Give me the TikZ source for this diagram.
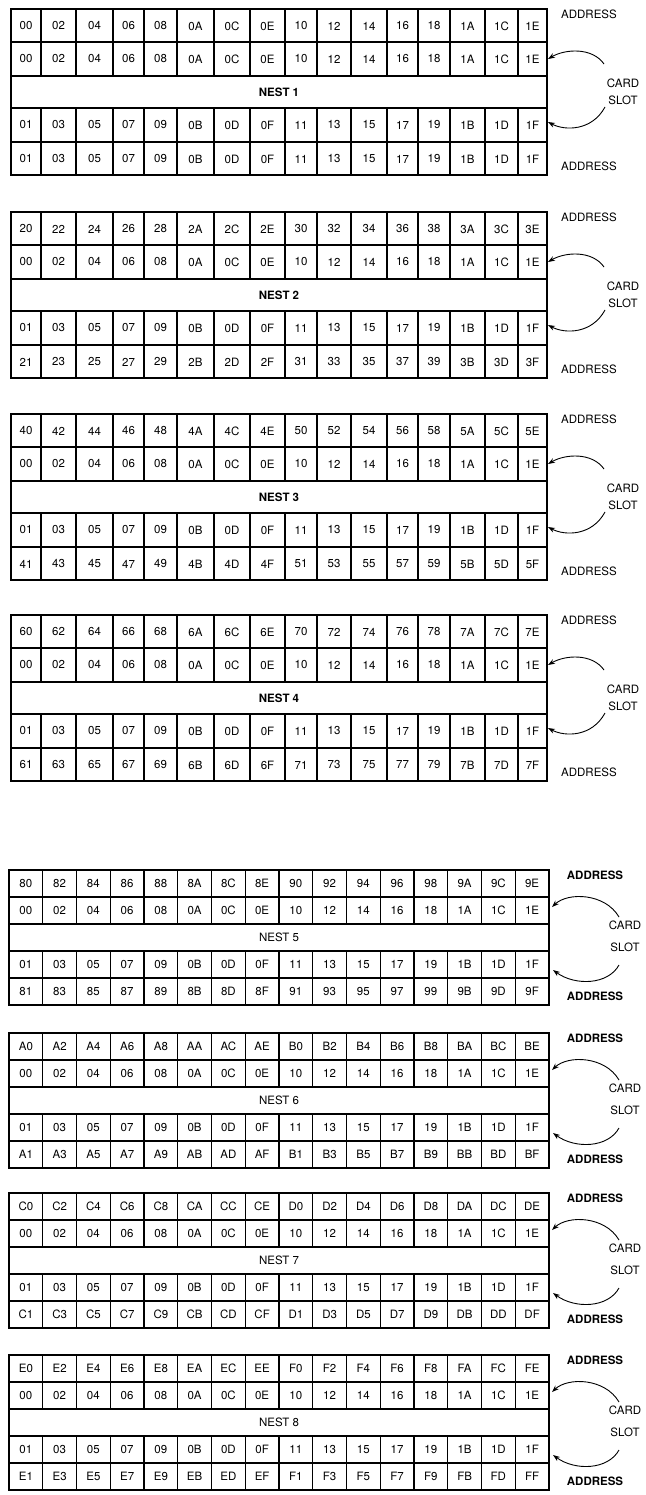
\documentclass[tikz,border=0pt]{standalone}
\usepackage{fontspec}
\setmainfont{TeX Gyre Heros}
\usetikzlibrary{arrows.meta}

\tikzset{
  case/.style={inner sep=0pt, font=\fontsize{11.5}{13}\selectfont},
  cadre/.style={line width=1.2pt},
  etiq/.style={inner sep=0pt, font=\fontsize{11.5}{13}\selectfont},
  carte/.style={inner sep=0pt, align=center},
  fente/.style={-{Stealth[length=7pt,width=5pt]}, line width=0.9pt},
}
% adresse en hexadecimal sur deux chiffres
\newcommand{\adr}[1]{\pgfmathtruncatemacro{\adrval}{#1}\ifnum\adrval<16 0\fi\pgfmathparse{Hex(\adrval)}\pgfmathresult}

\begin{document}
\begin{tikzpicture}[x=1pt,y=-1pt]
    \useasboundingbox (0,0) rectangle (645,1495);
    % nids 1 a 4
\foreach \n/\yh in {1/9,2/212,3/414,4/615}{
    \draw[cadre] (11,\yh) rectangle (547,\yh+166);
    \foreach \yl in {33,67,99,133}
        \draw[cadre] (11,\yh+\yl) -- (547,\yh+\yl);
    \foreach \xa/\xb [count=\k from 0] in {11/41,41/76,76/113,113/144,144/177,177/214,214/250,250/285,285/317,317/351,351/387,387/418,418/450,450/485,485/518,518/547}{
        \draw[cadre] (\xb,\yh) -- (\xb,\yh+67);
        \draw[cadre] (\xb,\yh+99) -- (\xb,\yh+166);
        \node[case] (h\n-\k) at ({(\xa+\xb)/2},\yh+17) {\adr{32*(\n-1)+2*\k}};
        \node[case] (p\n-\k) at ({(\xa+\xb)/2},\yh+50) {\adr{2*\k}};
        \node[case] (i\n-\k) at ({(\xa+\xb)/2},\yh+116) {\adr{2*\k+1}};
        \node[case] (b\n-\k) at ({(\xa+\xb)/2},\yh+150) {\adr{32*(\n-1)+2*\k+1}};
    }
    \node[etiq, font=\fontsize{11.5}{13}\selectfont\bfseries] (nid\n) at (279,\yh+83) {NEST \n};
    \node[etiq] (adrh\n) at (589,\yh+5) {ADDRESS};
    \node[etiq] (adrb\n) at (589,\yh+157) {ADDRESS};
    \node[carte, font=\fontsize{11.5}{17}\selectfont] (slot\n) at (623,\yh+83) {CARD\\SLOT};
    %flèches
    \coordinate (fa\n) at (604,\yh+55);
    \coordinate (fb\n) at (548,\yh+50);
    \coordinate (fc\n) at (605,\yh+98);
    \coordinate (fd\n) at (548,\yh+113);
    \draw[fente] (fa\n) .. controls (592,\yh+38) and (565,\yh+40) .. (fb\n);
    \draw[fente] (fc\n) .. controls (592,\yh+122) and (565,\yh+122) .. (fd\n);
}
    % nids 5 a 8
\foreach \n/\yh in {5/870,6/1033,7/1193,8/1355}{
    \draw[cadre] (9,\yh) rectangle (549,\yh+135);
    \foreach \yl in {27,54,81,108}
        \draw[cadre] (9,\yh+\yl) -- (549,\yh+\yl);
    \foreach \k in {0,...,15}{
        \draw[cadre] ({9+33.75*(\k+1)},\yh) -- ({9+33.75*(\k+1)},\yh+54);
        \draw[cadre] ({9+33.75*(\k+1)},\yh+81) -- ({9+33.75*(\k+1)},\yh+135);
        \node[case] (h\n-\k) at ({9+33.75*(\k+.5)},\yh+13.5) {\adr{32*(\n-1)+2*\k}};
        \node[case] (p\n-\k) at ({9+33.75*(\k+.5)},\yh+40.5) {\adr{2*\k}};
        \node[case] (i\n-\k) at ({9+33.75*(\k+.5)},\yh+94.5) {\adr{2*\k+1}};
        \node[case] (b\n-\k) at ({9+33.75*(\k+.5)},\yh+121.5) {\adr{32*(\n-1)+2*\k+1}};
    }
    \node[etiq] (nid\n) at (279,\yh+67.5) {NEST \n};
    \node[etiq, font=\fontsize{11.5}{13}\selectfont\bfseries] (adrh\n) at (595,\yh+5) {ADDRESS};
    \node[etiq, font=\fontsize{11.5}{13}\selectfont\bfseries] (adrb\n) at (595,\yh+126) {ADDRESS};
    \node[carte, font=\fontsize{11.5}{22}\selectfont] (slot\n) at (625,\yh+66) {CARD\\SLOT};
    %flèches
    \coordinate (fa\n) at (619,\yh+47);
    \coordinate (fb\n) at (552,\yh+37);
    \coordinate (fc\n) at (619,\yh+95);
    \coordinate (fd\n) at (553,\yh+100);
    \draw[fente] (fa\n) .. controls (605,\yh+23) and (568,\yh+22) .. (fb\n);
    \draw[fente] (fc\n) .. controls (608,\yh+115) and (575,\yh+116) .. (fd\n);
}
\end{tikzpicture}
\end{document}
